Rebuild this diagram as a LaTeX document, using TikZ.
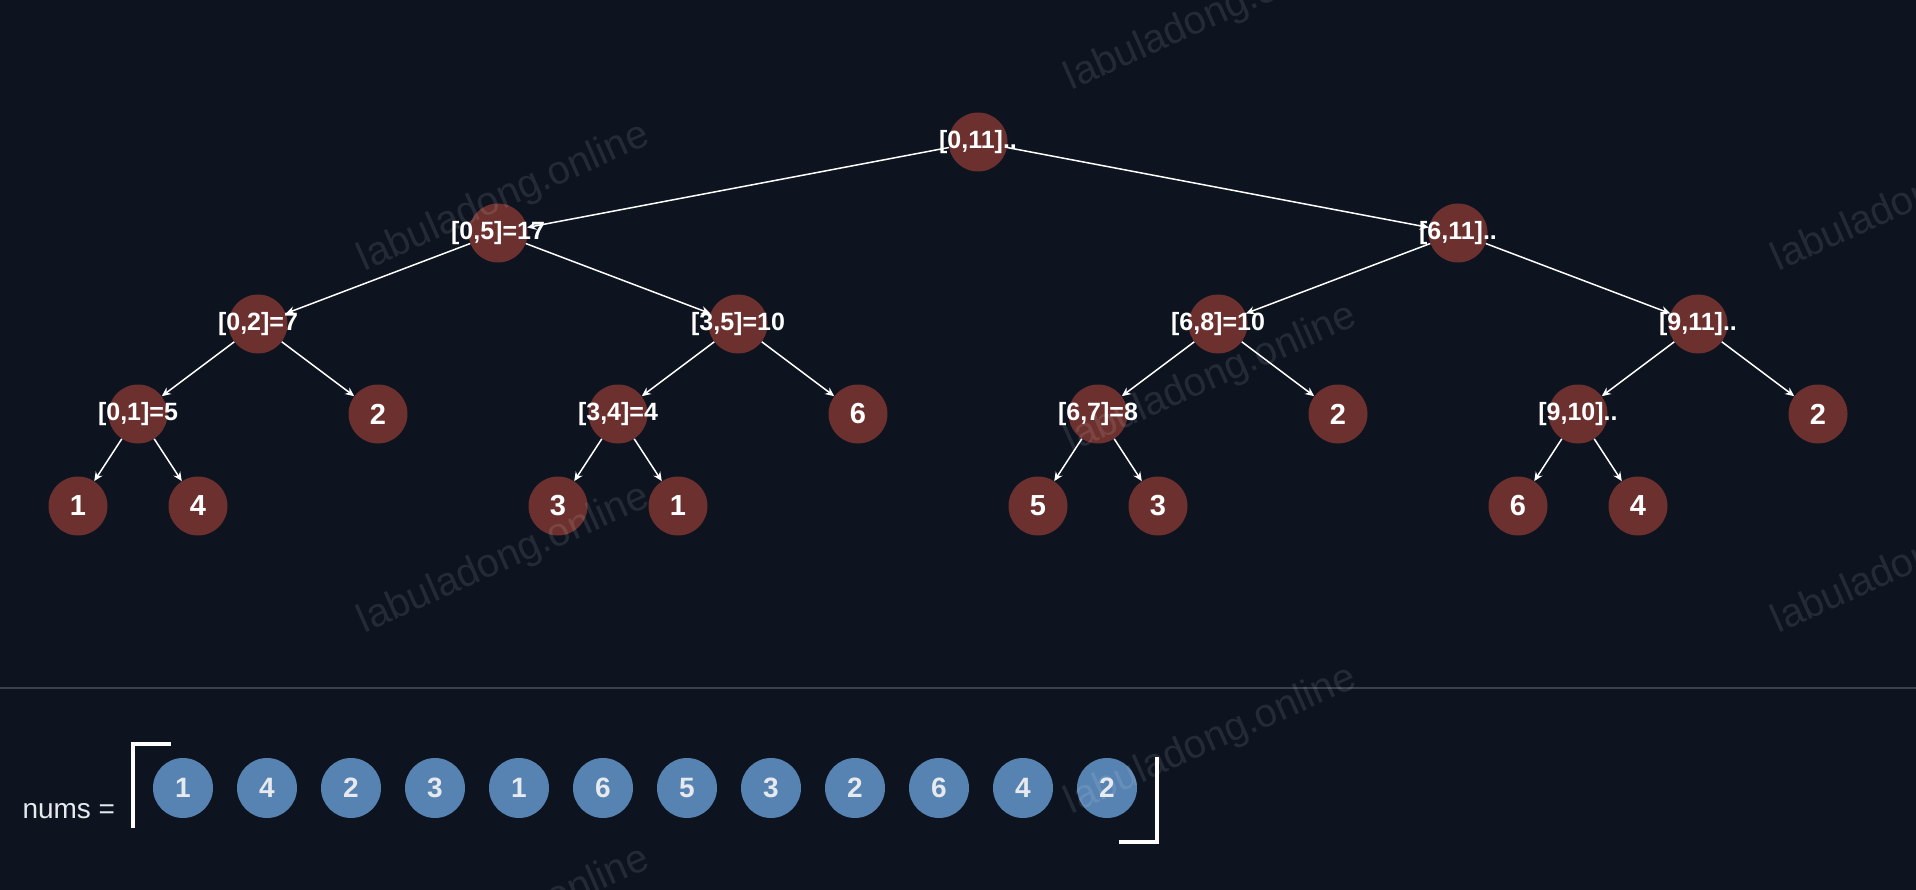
\documentclass[tikz,border=0pt]{standalone}
\usepackage{fontspec}
\setmainfont{Liberation Sans}
\usetikzlibrary{arrows.meta}
\definecolor{bgcol}{RGB}{13,20,32}
\definecolor{segred}{RGB}{108,48,46}
\definecolor{numblue}{RGB}{86,131,178}
\definecolor{numtext}{RGB}{230,233,238}
\definecolor{sepgray}{RGB}{58,64,77}
\tikzset{
  segnode/.style={circle,fill=segred,minimum size=59pt,inner sep=0pt},
  segtext/.style={text=white,font=\bfseries\fontsize{25}{25}\selectfont},
  leaftext/.style={text=white,font=\bfseries\fontsize{29}{29}\selectfont},
  numnode/.style={circle,fill=numblue,minimum size=60pt,inner sep=0pt,text=numtext,font=\bfseries\fontsize{28}{28}\selectfont},
  edge/.style={draw=white,line width=1.5pt,-{Stealth[length=9pt,width=8pt]}},
  bracket/.style={draw=white,line width=4pt},
  wmark/.style={text=white,opacity=0.1,rotate=24,font=\fontsize{40}{40}\selectfont}
}
\begin{document}
\begin{tikzpicture}[x=1pt,y=-1pt]
  %background
  \fill[bgcol] (0,0) rectangle (1916,890);
  \useasboundingbox (0,0) rectangle (1916,890);

  %segment tree nodes
  \node[segnode] (r) at (978,142) {};
  \node[segnode] (s05) at (498,233) {};
  \node[segnode] (s611) at (1458,233) {};
  \node[segnode] (s02) at (258,324) {};
  \node[segnode] (s35) at (738,324) {};
  \node[segnode] (s68) at (1218,324) {};
  \node[segnode] (s911) at (1698,324) {};
  \node[segnode] (s01) at (138,414) {};
  \node[segnode] (s34) at (618,414) {};
  \node[segnode] (s67) at (1098,414) {};
  \node[segnode] (s910) at (1578,414) {};
  \node[segnode,leaftext] (t2) at (378,414) {2};
  \node[segnode,leaftext] (t5) at (858,414) {6};
  \node[segnode,leaftext] (t8) at (1338,414) {2};
  \node[segnode,leaftext] (t11) at (1818,414) {2};

  %leaves
  \node[segnode,leaftext] (t0) at (78,506) {1};
  \node[segnode,leaftext] (t1) at (198,506) {4};
  \node[segnode,leaftext] (t3) at (558,506) {3};
  \node[segnode,leaftext] (t4) at (678,506) {1};
  \node[segnode,leaftext] (t6) at (1038,506) {5};
  \node[segnode,leaftext] (t7) at (1158,506) {3};
  \node[segnode,leaftext] (t9) at (1518,506) {6};
  \node[segnode,leaftext] (t10) at (1638,506) {4};

  %interval labels
  \node[segtext] (rt) at (r) {[0,11]..};
  \node[segtext] (s05t) at (s05) {[0,5]=17};
  \node[segtext] (s611t) at (s611) {[6,11]..};
  \node[segtext] (s02t) at (s02) {[0,2]=7};
  \node[segtext] (s35t) at (s35) {[3,5]=10};
  \node[segtext] (s68t) at (s68) {[6,8]=10};
  \node[segtext] (s911t) at (s911) {[9,11]..};
  \node[segtext] (s01t) at (s01) {[0,1]=5};
  \node[segtext] (s34t) at (s34) {[3,4]=4};
  \node[segtext] (s67t) at (s67) {[6,7]=8};
  \node[segtext] (s910t) at (s910) {[9,10]..};

  %edges
  \draw[edge] (r) -- (s05);
  \draw[edge] (r) -- (s611);
  \draw[edge] (s05) -- (s02);
  \draw[edge] (s05) -- (s35);
  \draw[edge] (s611) -- (s68);
  \draw[edge] (s611) -- (s911);
  \draw[edge] (s02) -- (s01);
  \draw[edge] (s02) -- (t2);
  \draw[edge] (s35) -- (s34);
  \draw[edge] (s35) -- (t5);
  \draw[edge] (s68) -- (s67);
  \draw[edge] (s68) -- (t8);
  \draw[edge] (s911) -- (s910);
  \draw[edge] (s911) -- (t11);
  \draw[edge] (s01) -- (t0);
  \draw[edge] (s01) -- (t1);
  \draw[edge] (s34) -- (t3);
  \draw[edge] (s34) -- (t4);
  \draw[edge] (s67) -- (t6);
  \draw[edge] (s67) -- (t7);
  \draw[edge] (s910) -- (t9);
  \draw[edge] (s910) -- (t10);

  %separator
  \draw[sepgray,line width=1.5pt] (0,688) -- (1916,688);

  %input array
  \node[anchor=base west,text=numtext,font=\fontsize{28}{28}\selectfont] (nums) at (19,818) {nums =};
  \draw[bracket] (171,744) -- (133,744) -- (133,828);
  \draw[bracket] (1157,757) -- (1157,842) -- (1119,842);
  \node[numnode] (a0) at (183,788) {1};
  \node[numnode] (a1) at (267,788) {4};
  \node[numnode] (a2) at (351,788) {2};
  \node[numnode] (a3) at (435,788) {3};
  \node[numnode] (a4) at (519,788) {1};
  \node[numnode] (a5) at (603,788) {6};
  \node[numnode] (a6) at (687,788) {5};
  \node[numnode] (a7) at (771,788) {3};
  \node[numnode] (a8) at (855,788) {2};
  \node[numnode] (a9) at (939,788) {6};
  \node[numnode] (a10) at (1023,788) {4};
  \node[numnode] (a11) at (1107,788) {2};

  %watermark
  \node[wmark] (w1) at (504,198) {labuladong.online};
  \node[wmark] (w2) at (504,560) {labuladong.online};
  \node[wmark] (w3) at (504,922) {labuladong.online};
  \node[wmark] (w4) at (1211,17) {labuladong.online};
  \node[wmark] (w5) at (1211,379) {labuladong.online};
  \node[wmark] (w6) at (1211,741) {labuladong.online};
  \node[wmark] (w7) at (1918,198) {labuladong.online};
  \node[wmark] (w8) at (1918,560) {labuladong.online};
\end{tikzpicture}
\end{document}
